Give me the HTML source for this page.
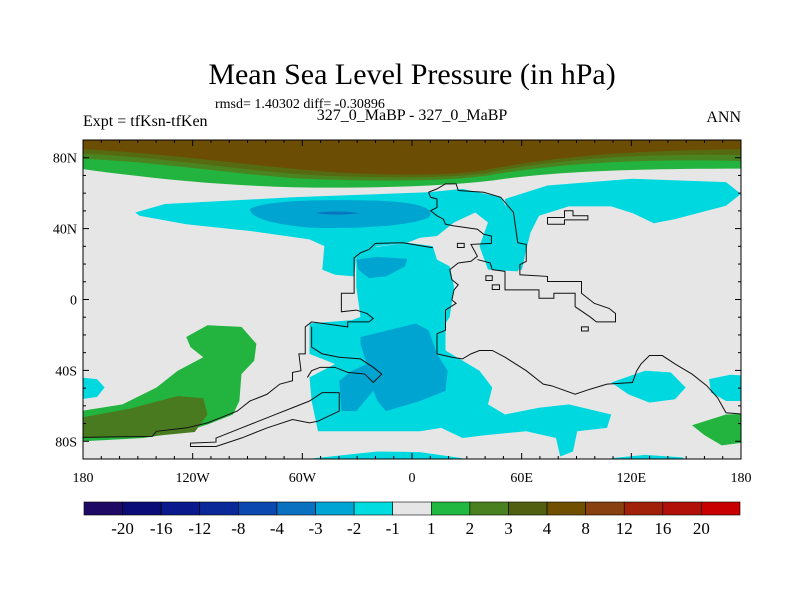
<!DOCTYPE html>
<html><head><meta charset="utf-8"><style>
body{margin:0;background:#fff;width:800px;height:600px;overflow:hidden}
svg{display:block}
text{font-family:"Liberation Serif",serif;fill:#000}
</style></head><body>
<svg id="chart" width="800" height="600" viewBox="0 0 800 600">
<text x="412" y="84" font-size="30" text-anchor="middle">Mean Sea Level Pressure (in hPa)</text>
<text x="215" y="108" font-size="14">rmsd= 1.40302 diff= -0.30896</text>
<text x="83" y="126" font-size="16">Expt = tfKsn-tfKen</text>
<text x="412" y="120" font-size="16" text-anchor="middle">327_0_MaBP - 327_0_MaBP</text>
<text x="741" y="122" font-size="16" text-anchor="end">ANN</text>
<defs><clipPath id="pc"><rect x="83" y="140" width="658" height="319"/></clipPath></defs>
<g clip-path="url(#pc)">
<rect x="83" y="140" width="658" height="319" fill="#e6e6e6"/>
<g transform="translate(80,135) scale(0.425,0.3367)">
<path fill="#22b43e" d="M0,0H1570V100C1350,100 1150,105 1000,130C900,150 700,160 500,155C350,150 200,135 0,100Z"/>
<path fill="#4a8420" d="M0,0H1570V78C1350,70 1150,80 970,118C880,138 680,140 500,128C320,110 180,80 0,70Z"/>
<path fill="#566a12" d="M0,0H1570V60C1350,55 1150,65 960,112C870,130 670,130 500,115C320,95 180,65 0,55Z"/>
<path fill="#6b4e03" d="M0,0H1570V42C1350,45 1150,55 950,105C850,125 650,120 500,100C300,75 150,50 0,42Z"/>
<path fill="#00d8e0" d="M130,230L200,205L500,185L820,170L900,160L990,185L1010,230L1030,300L1040,370L1030,405L960,400L940,330L960,260L930,230L880,260L840,300L800,305L770,320L700,330L650,360L645,420L600,415L570,400L575,330L540,310L400,285L250,265L140,240Z"/>
<path fill="#00d8e0" d="M1000,190L1100,150L1300,130L1520,140L1555,175L1520,210L1400,250L1350,262L1300,232L1250,212L1150,212L1080,240L1060,290L1050,340L1040,400L1030,400L1010,300Z"/>
<path fill="#00d8e0" d="M650,340L770,320L830,330L840,370L870,390L880,450L870,540L860,560L860,640L940,700L970,750L960,800L1000,830L1080,810L1150,800L1250,830L1240,870L1170,880L1160,940L1130,955L1120,900L1050,880L950,892L900,900L850,870L800,880L560,880L545,790L540,720L600,680L540,650L540,560L640,550L660,540L650,450Z"/>
<path fill="#00d8e0" d="M1250,735L1330,700L1390,705L1425,750L1400,785L1340,795L1290,770Z"/>
<path fill="#00d8e0" d="M1480,725L1530,712L1570,715L1570,790L1520,790L1485,765Z"/>
<path fill="#00d8e0" d="M0,720L40,725L58,750L40,778L0,785Z"/>
<path fill="#00d8e0" d="M550,960L700,940L800,942L900,960L900,980L550,980Z"/>
<path fill="#00d8e0" d="M1250,960L1330,950L1420,958L1420,980L1250,980Z"/>
<path fill="#00a4d0" d="M400,220C430,195 560,190 700,195C800,200 840,220 820,245C780,270 650,280 540,275C450,265 400,245 400,220Z"/>
<path fill="#0a74c0" d="M555,232C580,225 630,226 655,232C630,238 580,238 555,232Z"/>
<path fill="#00a4d0" d="M650,370L700,362L770,368L765,390L720,420L680,425L655,400Z"/>
<path fill="#00a4d0" d="M660,600L790,560L820,580L840,650L865,700L860,760L800,790L720,820L700,790L690,760L650,820L615,820L610,730L640,700L675,680L660,620Z"/>
<path fill="#22b43e" d="M250,600L300,565L380,570L415,620L410,670L380,710L375,790L360,830L300,860L250,880L150,900L0,910L0,820L100,800L180,750L230,700L290,660L260,630Z"/>
<path fill="#4a7a20" d="M0,840L120,812L230,775L290,782L300,830L270,882L150,897L0,900Z"/>
<path fill="#22b43e" d="M1440,862L1520,830L1570,828L1570,912L1510,922L1470,892Z"/>
<g fill="none" stroke="#111" stroke-width="1" vector-effect="non-scaling-stroke">
<polyline vector-effect="non-scaling-stroke" points="820,170 840,160 860,145 885,145 890,165 950,170 990,185 1000,200 1020,230 1030,320 1050,325 1050,375 1035,385 1035,415 1100,420 1100,435 1180,435 1180,470 1210,500 1245,515 1260,530 1260,555 1215,555 1200,540 1165,510 1165,470 1115,470 1115,485 1080,485 1080,460 1000,460 1000,405 970,400 965,380 935,370"/>
<polyline vector-effect="non-scaling-stroke" points="820,170 825,185 840,190 840,215 825,225 840,240 855,250 860,265 880,270 935,280 950,295 968,300 968,322 920,325 935,360 920,375 890,380 870,400 875,430 890,445 880,460 875,490 885,500 860,520 860,580 840,590 840,650 875,660 900,665 920,650 940,640 970,640 1000,660 1050,700 1090,740 1110,745 1165,770 1200,755 1240,740 1300,735 1310,700 1320,680 1340,655 1370,655 1400,680 1440,710 1475,745 1500,780 1520,825 1570,830"/>
<polyline vector-effect="non-scaling-stroke" points="830,335 760,320 695,322 680,340 660,350 645,365 645,470 615,470 615,525 650,520 675,530 690,545 680,555 630,555 630,570 545,555 530,570 530,650 515,650 520,700 500,705 500,730 470,740 440,770 400,790 370,820 330,840 300,855 250,870 180,880 170,895 0,898"/>
<polyline vector-effect="non-scaling-stroke" points="545,570 545,630 570,650 610,660 660,665 690,690 710,710 690,735 670,710 630,705 600,690 565,690 545,700 535,720"/>
<polyline vector-effect="non-scaling-stroke" points="610,765 570,765 540,790 500,810 460,830 420,850 380,870 320,900 320,912 260,915 260,925 320,925 380,900 440,870 500,845 540,855 560,850 610,820 610,765"/>
<polyline vector-effect="non-scaling-stroke" points="1100,265 1100,245 1140,245 1140,225 1160,225 1160,240 1195,240 1195,252 1140,252 1140,265 1100,265"/>
<rect vector-effect="non-scaling-stroke" x="955" y="418" width="15" height="14"/>
<rect vector-effect="non-scaling-stroke" x="970" y="445" width="17" height="14"/>
<rect vector-effect="non-scaling-stroke" x="1180" y="570" width="16" height="12"/>
<rect vector-effect="non-scaling-stroke" x="888" y="322" width="16" height="12"/>
</g>
</g>
</g>
<rect x="83" y="140" width="658" height="319" fill="none" stroke="#000" stroke-width="1"/>
<g id="ticks"></g>
<g id="labels"></g>
<g id="cbar"></g>
</svg>
<script>
const latTicks=[80,40,0,-40,-80];
const latLabels=["80N","40N","0","40S","80S"];
const lonTicks=[-180,-120,-60,0,60,120,180];
const lonLabels=["180","120W","60W","0","60E","120E","180"];
const levelLabels=["-20","-16","-12","-8","-4","-3","-2","-1","1","2","3","4","8","12","16","20"];
const levelColors=["#1e0a64","#0c0c78","#0a1a8c","#0a2898","#0a48b0","#0a70c0","#00a4d4","#00dce0","#e6e6e6","#20b840","#4a8020","#506010","#705000","#884010","#a02008","#b01008","#c80000"];
const NS="http://www.w3.org/2000/svg";
const X0=83,X1=741,Y0=140,Y1=459;
function xs(lon){return X0+(lon+180)/360*(X1-X0);}
function ys(lat){return Y0+(90-lat)/180*(Y1-Y0);}
function mk(tag,attrs,parent){const e=document.createElementNS(NS,tag);for(const k in attrs)e.setAttribute(k,attrs[k]);parent.appendChild(e);return e;}
const tg=document.getElementById('ticks'),lg=document.getElementById('labels'),cb=document.getElementById('cbar');
for(let lon=-180;lon<=180;lon+=10){const L=lon%60===0?6:3,x=xs(lon);
 const a=mk('line',{x1:x,x2:x,y1:Y0,y2:Y0+L,stroke:'#000'},tg);
 
 
 const b=mk('line',{x1:x,x2:x,y1:Y1,y2:Y1-L,stroke:'#000'},tg);
 
 }
for(let lat=-90;lat<=90;lat+=10){const L=lat%40===0?6:3,y=ys(lat);
 const a=mk('line',{x1:X0,x2:X0+L,y1:y,y2:y,stroke:'#000'},tg);
 
 
 const b=mk('line',{x1:X1,x2:X1-L,y1:y,y2:y,stroke:'#000'},tg);
 
 }
latTicks.forEach((v,i)=>{const t=mk('text',{x:77,y:ys(v)+5,'font-size':14,'text-anchor':'end'},lg);t.textContent=latLabels[i];
 
 });
lonTicks.forEach((v,i)=>{const t=mk('text',{x:xs(v),y:482,'font-size':14,'text-anchor':'middle'},lg);t.textContent=lonLabels[i];
 
 });
const CB0=84,CB1=740,n=levelColors.length,w=(CB1-CB0)/n;
levelColors.forEach((c,i)=>{const r=mk('rect',{x:CB0+i*w,y:502,width:w,height:13,fill:c,stroke:'#000','stroke-width':0.6},cb);
 
 });
levelLabels.forEach((s,i)=>{const t=mk('text',{x:CB0+(i+1)*w,y:534,'font-size':17,'text-anchor':'middle'},cb);t.textContent=s;
 
 });
</script>
</body></html>
